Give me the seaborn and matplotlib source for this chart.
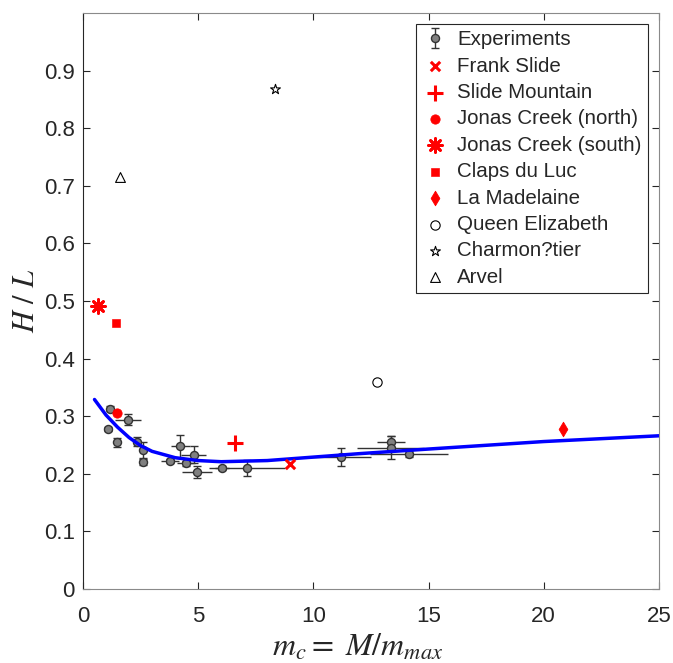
import matplotlib
matplotlib.use("Agg")
import matplotlib.pyplot as plt
import numpy as np
import seaborn as sns

# experiments (mean and spread)
exp_x = [1.16, 1.10, 1.46, 1.95, 2.36, 2.62, 2.62, 3.78, 4.22, 4.46, 4.80, 4.93, 6.02, 7.13, 11.21, 13.36, 13.36, 14.16]
exp_y = [0.313, 0.278, 0.255, 0.294, 0.256, 0.241, 0.220, 0.222, 0.248, 0.218, 0.233, 0.203, 0.210, 0.210, 0.229, 0.256, 0.245, 0.234]
exp_xerr = [0.15, 0.05, 0.05, 0.58, 0.15, 0.15, 0.15, 0.38, 0.42, 0.40, 0.56, 0.65, 0.30, 1.64, 1.30, 0.60, 1.45, 1.70]
exp_yerr = [0.004, 0.003, 0.008, 0.010, 0.008, 0.014, 0.005, 0.003, 0.020, 0.005, 0.015, 0.011, 0.004, 0.014, 0.016, 0.010, 0.020, 0.005]

# fitted curve
fit_x = [0.5, 1.0, 1.5, 2.0, 2.5, 3.0, 4.0, 5.0, 6.0, 7.0, 8.0, 10.0, 12.0, 15.0, 20.0, 25.0]
fit_y = [0.329, 0.302, 0.281, 0.263, 0.249, 0.239, 0.228, 0.223, 0.221, 0.222, 0.223, 0.229, 0.235, 0.243, 0.256, 0.266]

# field cases
sites = ["Frank Slide", "Slide Mountain", "Jonas Creek (north)", "Jonas Creek (south)",
         "Claps du Luc", "La Madelaine", "Queen Elizabeth", "Charmon?tier", "Arvel"]
site_x = [8.98, 6.60, 1.48, 0.64, 1.45, 20.82, 12.76, 8.33, 1.60]
site_y = [0.217, 0.254, 0.306, 0.491, 0.462, 0.277, 0.359, 0.868, 0.716]

styles = {
    "Frank Slide": dict(marker="x", s=45, color="red", linewidths=2.2),
    "Slide Mountain": dict(marker="+", s=120, color="red", linewidths=2.2),
    "Jonas Creek (north)": dict(marker="o", s=45, color="red", edgecolor="red"),
    "Jonas Creek (south)": dict(marker=(8, 2, 0), s=100, color="red", linewidths=2.0),
    "Claps du Luc": dict(marker="s", s=30, color="red", edgecolor="red"),
    "La Madelaine": dict(marker="d", s=55, color="red", edgecolor="red"),
    "Queen Elizabeth": dict(marker="o", s=45, facecolor="white", edgecolor="black", linewidths=0.8),
    "Charmon?tier": dict(marker="*", s=55, facecolor="white", edgecolor="black", linewidths=0.8),
    "Arvel": dict(marker="^", s=50, facecolor="white", edgecolor="black", linewidths=0.8),
}

sns.set_theme(style="ticks")
plt.rcParams["font.family"] = ["Liberation Sans", "DejaVu Sans"]
plt.rcParams["mathtext.fontset"] = "stix"

fig = plt.figure(figsize=(6.73, 6.63), dpi=100)
ax = fig.add_axes([0.1233, 0.1116, 0.8557, 0.8688])

# horizontal spread of experiments (kept out of the legend)
ax.errorbar(exp_x, exp_y, xerr=exp_xerr, fmt="none", ecolor="#333333", elinewidth=1.0,
            capsize=0, zorder=2)
ax.errorbar(exp_x, exp_y, yerr=exp_yerr, fmt="o", color="#333333", ecolor="#333333",
            markerfacecolor="#808080", markeredgecolor="#333333", markersize=5.8,
            elinewidth=1.0, capsize=3, capthick=1.0, label="Experiments", zorder=3)

sns.lineplot(x=fit_x, y=fit_y, color="#0000ff", linewidth=2.5, ax=ax, zorder=4)

for name, x, y in zip(sites, site_x, site_y):
    sns.scatterplot(x=[x], y=[y], ax=ax, label=name, zorder=5, **styles[name])

ax.set_xlim(0, 25)
ax.set_ylim(0, 1.0)
ax.set_xticks([0, 5, 10, 15, 20, 25])
ax.set_yticks(np.arange(0, 1.0, 0.1))
ax.set_yticklabels(["0", "0.1", "0.2", "0.3", "0.4", "0.5", "0.6", "0.7", "0.8", "0.9"])
ax.tick_params(direction="in", length=5, width=0.8, labelsize=16, colors="#262626",
               top=True, right=True, pad=6)
ax.tick_params(axis="x", pad=12)
for side in ["top", "right", "left", "bottom"]:
    ax.spines[side].set_visible(True)
    ax.spines[side].set_linewidth(0.8)
ax.spines["left"].set_color("#262626")
for side in ["top", "right", "bottom"]:
    ax.spines[side].set_color("#8a8a8a")

ax.set_xlabel(r"$m_c = \ M/m_{max}$", fontsize=23)
ax.xaxis.set_label_coords(0.477, -0.075)
ax.set_ylabel(r"$H\ /\ L$", fontsize=22, labelpad=2)

handles, labels = ax.get_legend_handles_labels()
order = [labels.index("Experiments")] + [labels.index(s) for s in sites]
leg = ax.legend([handles[i] for i in order], [labels[i] for i in order],
                loc="upper right", fontsize=14.8, frameon=True, fancybox=False,
                edgecolor="#262626", framealpha=1, borderpad=0.3, labelspacing=0.36,
                handletextpad=0.5, handlelength=1.2, borderaxespad=0,
                bbox_to_anchor=(0.981, 0.981))
leg.get_frame().set_linewidth(0.8)

fig.savefig("out.png", dpi=100)
